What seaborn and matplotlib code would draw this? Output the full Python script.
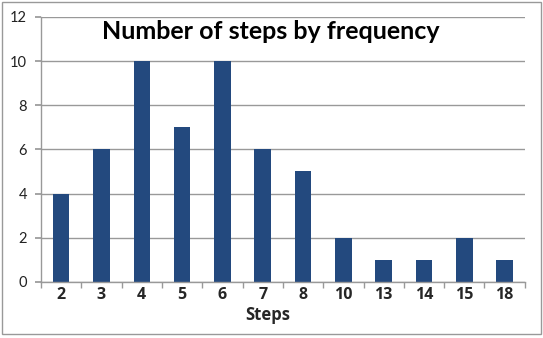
import numpy as np
import pandas as pd
import matplotlib
matplotlib.use("Agg")
import matplotlib.pyplot as plt
import seaborn as sns
from matplotlib.patches import Rectangle

steps = ["2", "3", "4", "5", "6", "7", "8", "10", "13", "14", "15", "18"]
frequency = [4, 6, 10, 7, 10, 6, 5, 2, 1, 1, 2, 1]

df = pd.DataFrame({"steps": steps, "frequency": frequency})

sns.set_theme(style="white")
plt.rcParams['font.family'] = ['Lato', 'DejaVu Sans']

fig = plt.figure(figsize=(5.43, 3.38), dpi=100)
ax = fig.add_axes([0.0755, 0.166, 0.891, 0.784])

sns.barplot(data=df, x="steps", y="frequency", order=steps,
            color="#23497E", saturation=1, width=0.41, linewidth=0,
            edgecolor="#23497E", ax=ax)

ax.set_ylim(0, 12)
ax.set_yticks(np.arange(0, 13, 2))
ax.yaxis.grid(True, color="#999999", linewidth=1)
ax.set_axisbelow(True)
ax.set_xlim(-0.5, len(steps) - 0.5)

for s in ["top", "right"]:
    ax.spines[s].set_visible(False)
for s in ["left", "bottom"]:
    ax.spines[s].set_color("#999999")
    ax.spines[s].set_linewidth(1)

# category boundary tick marks like excel
ax.set_xticks(np.arange(-0.5, len(steps)), minor=True)
ax.tick_params(axis="x", which="minor", length=4, color="#999999", direction="out", bottom=True)
ax.tick_params(axis="x", which="major", length=0, pad=4)
ax.tick_params(axis="y", length=4, color="#999999", left=True, labelsize=10.5, labelcolor="#222222", pad=6)

ax.set_ylabel("")
ax.set_xlabel("Steps", fontsize=12, fontweight="bold", labelpad=2, x=0.469,
              family=["Open Sans", "DejaVu Sans"])

ax.text(0.475, 0.945, "Number of steps by frequency", transform=ax.transAxes,
        ha="center", va="center", fontsize=18, fontweight="bold", color="black")

ax.set_xticks(np.arange(len(steps)))
ax.set_xticklabels(steps)
plt.setp(ax.get_xticklabels(), fontweight="bold", fontsize=11.5,
         family=["Open Sans", "DejaVu Sans"])

fig.patches.append(Rectangle((0.004, 0.012), 0.992, 0.982, transform=fig.transFigure,
                             fill=False, edgecolor="#999999", linewidth=1))

fig.savefig("out.png", dpi=100)
